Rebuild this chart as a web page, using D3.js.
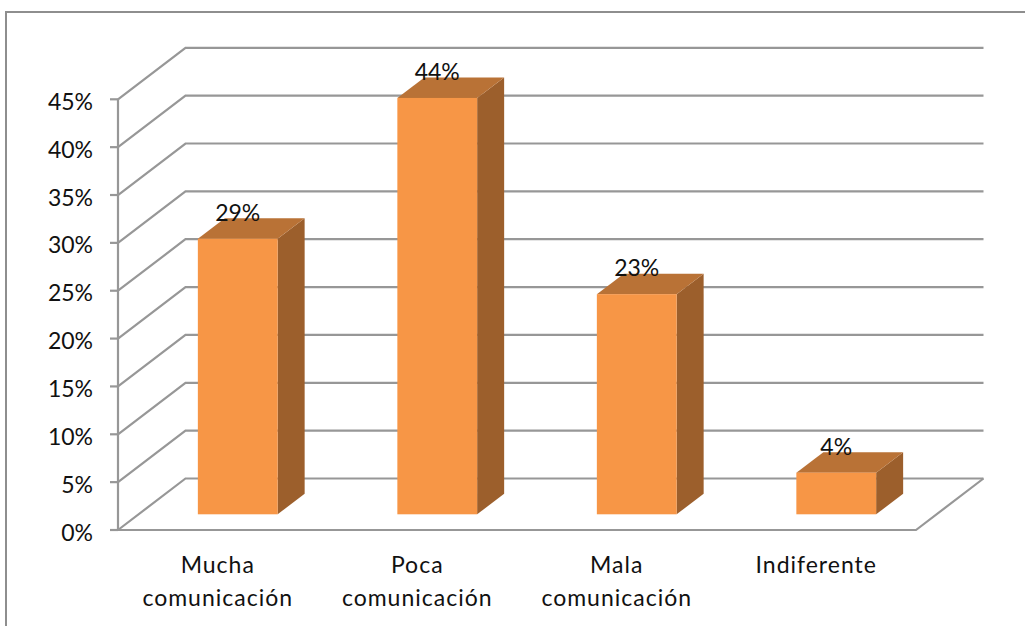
<!DOCTYPE html>
<html><head><meta charset="utf-8">
<script src="https://cdnjs.cloudflare.com/ajax/libs/d3/7.8.5/d3.min.js"></script>
<style>html,body{margin:0;padding:0;background:#fff}svg{display:block}text{font-family:Lato,sans-serif;fill:#111}</style>
</head><body><svg id="c" width="1025" height="626"></svg>
<script>
const categories = [["Mucha","comunicación"],["Poca","comunicación"],["Mala","comunicación"],["Indiferente"]];
const values = [0.288, 0.435, 0.23, 0.0435];
const ticks = [0,0.05,0.10,0.15,0.20,0.25,0.30,0.35,0.40,0.45];

const fs=23;
const svg=d3.select("#c");
const y=d3.scaleLinear().domain([0,0.45]).range([530,99.3]);
const x=d3.scaleBand().domain(d3.range(categories.length)).range([118,916]).paddingInner(0.6).paddingOuter(0.3);
const depth={dx:67.5,dy:-51.5};
const barOff={dx:20,dy:-15.7};
const barDepth={dx:27,dy:-20.5};
const grid="#979797";
const pct=d3.format(".0%");

svg.append("rect").attr("x",6).attr("y",12).attr("width",1030).attr("height",640)
  .attr("fill","#fff").attr("stroke","#8e8e8e").attr("stroke-width",2);

const line=(pts,w=2.2)=>svg.append("polyline").attr("points",pts.map(p=>p.join(",")).join(" "))
  .attr("fill","none").attr("stroke",grid).attr("stroke-width",w);

ticks.forEach(t=>{
  const yy=y(t);
  line([[x.range()[0],yy],[x.range()[0]+depth.dx,yy+depth.dy],[x.range()[1]+depth.dx,yy+depth.dy]]);
  line([[x.range()[0]-8,yy],[x.range()[0],yy]]);
  svg.append("text").attr("x",93).attr("y",yy+10.5).attr("text-anchor","end").attr("font-size",fs).text(pct(t));
});
line([[118,y(0.45)],[118,y(0)]]);
line([[118,y(0)],[916,y(0)],[916+depth.dx,y(0)+depth.dy]]);

values.forEach((v,i)=>{
  const l=x(i)+barOff.dx, w=x.bandwidth();
  const base=y(0)+barOff.dy, top=base-(y(0)-y(v));
  const {dx,dy}=barDepth;
  svg.append("polygon").attr("fill","#9c5f2c").attr("points",[[l+w,top],[l+w+dx,top+dy],[l+w+dx,base+dy],[l+w,base]].join(" "));
  svg.append("polygon").attr("fill","#b97236").attr("points",[[l,top],[l+dx,top+dy],[l+w+dx,top+dy],[l+w,top]].join(" "));
  svg.append("rect").attr("x",l).attr("y",top).attr("width",w).attr("height",base-top).attr("fill","#f79646");
  svg.append("text").attr("x",l+w/2).attr("y",top-18).attr("text-anchor","middle").attr("font-size",fs).text(pct(v));
});

categories.forEach((c,i)=>{
  const cx=x(i)+x.bandwidth()/2;
  c.forEach((s,j)=>svg.append("text").attr("x",cx).attr("y",573+j*33).attr("text-anchor","middle")
    .attr("font-size",fs).attr("letter-spacing",1).text(s));
});
</script></body></html>
